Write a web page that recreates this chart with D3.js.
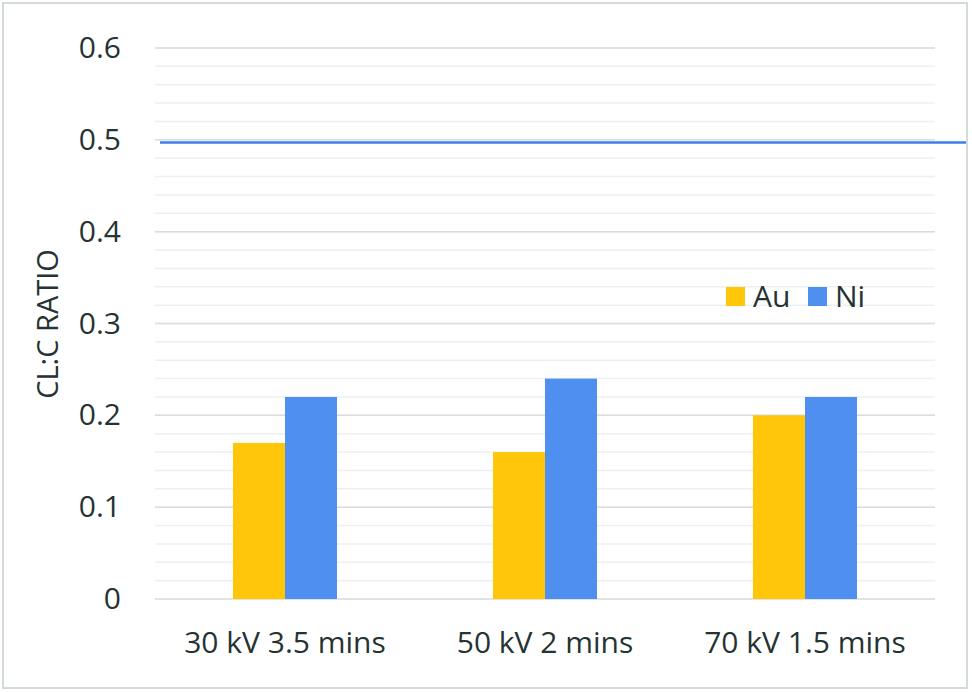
<!DOCTYPE html>
<html><head><meta charset="utf-8">
<script src="https://cdn.jsdelivr.net/npm/d3@7"></script>
<style>body{margin:0;background:#fff}svg{display:block}</style>
</head><body>
<svg id="c" width="972" height="692"></svg>
<script>
const categories = ["30 kV 3.5 mins", "50 kV 2 mins", "70 kV 1.5 mins"];
const seriesNames = ["Au", "Ni"];
const auValues = [0.17, 0.16, 0.20];
const niValues = [0.22, 0.24, 0.22];
const refLineValue = [0.497];
const yTicks = [0, 0.1, 0.2, 0.3, 0.4, 0.5, 0.6];
const minorTicks = d3.range(0, 0.6001, 0.02);
const colors = ["#ffc60a", "#4f8ff0"];

const svg = d3.select("#c");
const font = "'Open Sans', sans-serif";
const textColor = "#253333";
const fs = 30;
const m = {left:155, right:935, top:48, bottom:599};

svg.append("rect").attr("x",3).attr("y",3).attr("width",964).attr("height",685)
  .attr("fill","#fff").attr("stroke","#d3dbdb").attr("stroke-width",2);

const x = d3.scaleBand().domain(categories).range([m.left, m.right]).paddingInner(0).paddingOuter(0);
const xs = d3.scaleBand().domain(seriesNames).range([0, 104]);
const y = d3.scaleLinear().domain([0, 0.6]).range([m.bottom, m.top]);

// minor grid
svg.append("g").selectAll("line").data(minorTicks).join("line")
  .attr("x1", m.left).attr("x2", m.right)
  .attr("y1", d=>y(d)).attr("y2", d=>y(d))
  .attr("stroke", "#edf0f0").attr("stroke-width", 1.5);
// major grid
svg.append("g").selectAll("line").data(yTicks).join("line")
  .attr("x1", m.left).attr("x2", m.right)
  .attr("y1", d=>y(d)).attr("y2", d=>y(d))
  .attr("stroke", "#d8dede").attr("stroke-width", 1.5);

// y axis labels
const yAxis = d3.axisLeft(y).tickValues(yTicks).tickFormat(d=> d===0 ? "0" : d3.format(".1f")(d)).tickSize(0).tickPadding(0);
const ga = svg.append("g").attr("transform", `translate(121,0)`).call(yAxis);
ga.select(".domain").remove();
ga.selectAll("text").attr("font-family", font).attr("font-size", fs).attr("fill", textColor);

// x axis labels
const xAxis = d3.axisBottom(x).tickSize(0).tickPadding(0);
const gx = svg.append("g").attr("transform", `translate(0,632)`).call(xAxis);
gx.select(".domain").remove();
gx.selectAll("text").attr("font-family", font).attr("font-size", fs).attr("fill", textColor);

// bars
const data = categories.map((c,i)=>({c, vals:[auValues[i], niValues[i]]}));
const groups = svg.append("g").selectAll("g").data(data).join("g")
  .attr("transform", d=>`translate(${x(d.c)+x.bandwidth()/2-52},0)`);
groups.selectAll("rect").data(d=>d.vals.map((v,j)=>({s:seriesNames[j], v, j})))
  .join("rect")
  .attr("x", d=>xs(d.s)).attr("width", xs.bandwidth())
  .attr("y", d=>y(d.v)).attr("height", d=>y(0)-y(d.v))
  .attr("fill", d=>colors[d.j]);

// reference line
svg.append("g").selectAll("line").data(refLineValue).join("line")
  .attr("x1", 160).attr("x2", 966)
  .attr("y1", d=>y(d)).attr("y2", d=>y(d))
  .attr("stroke", "#3f7ee8").attr("stroke-width", 2.5);

// y title
svg.append("text").attr("transform", "translate(58,324) rotate(-90)")
  .attr("text-anchor","middle").attr("font-family", font).attr("font-size", 29)
  .attr("fill", textColor).text("CL:C RATIO");

// legend
const lg = svg.append("g").selectAll("g").data(seriesNames).join("g")
  .attr("transform", (d,i)=>`translate(${[726,808][i]},287)`);
lg.append("rect").attr("width",19).attr("height",19).attr("fill",(d,i)=>colors[i]);
lg.append("text").attr("x",27).attr("y",19.5).attr("font-family",font).attr("font-size",fs)
  .attr("fill",textColor).text(d=>d);
</script>
</body></html>
